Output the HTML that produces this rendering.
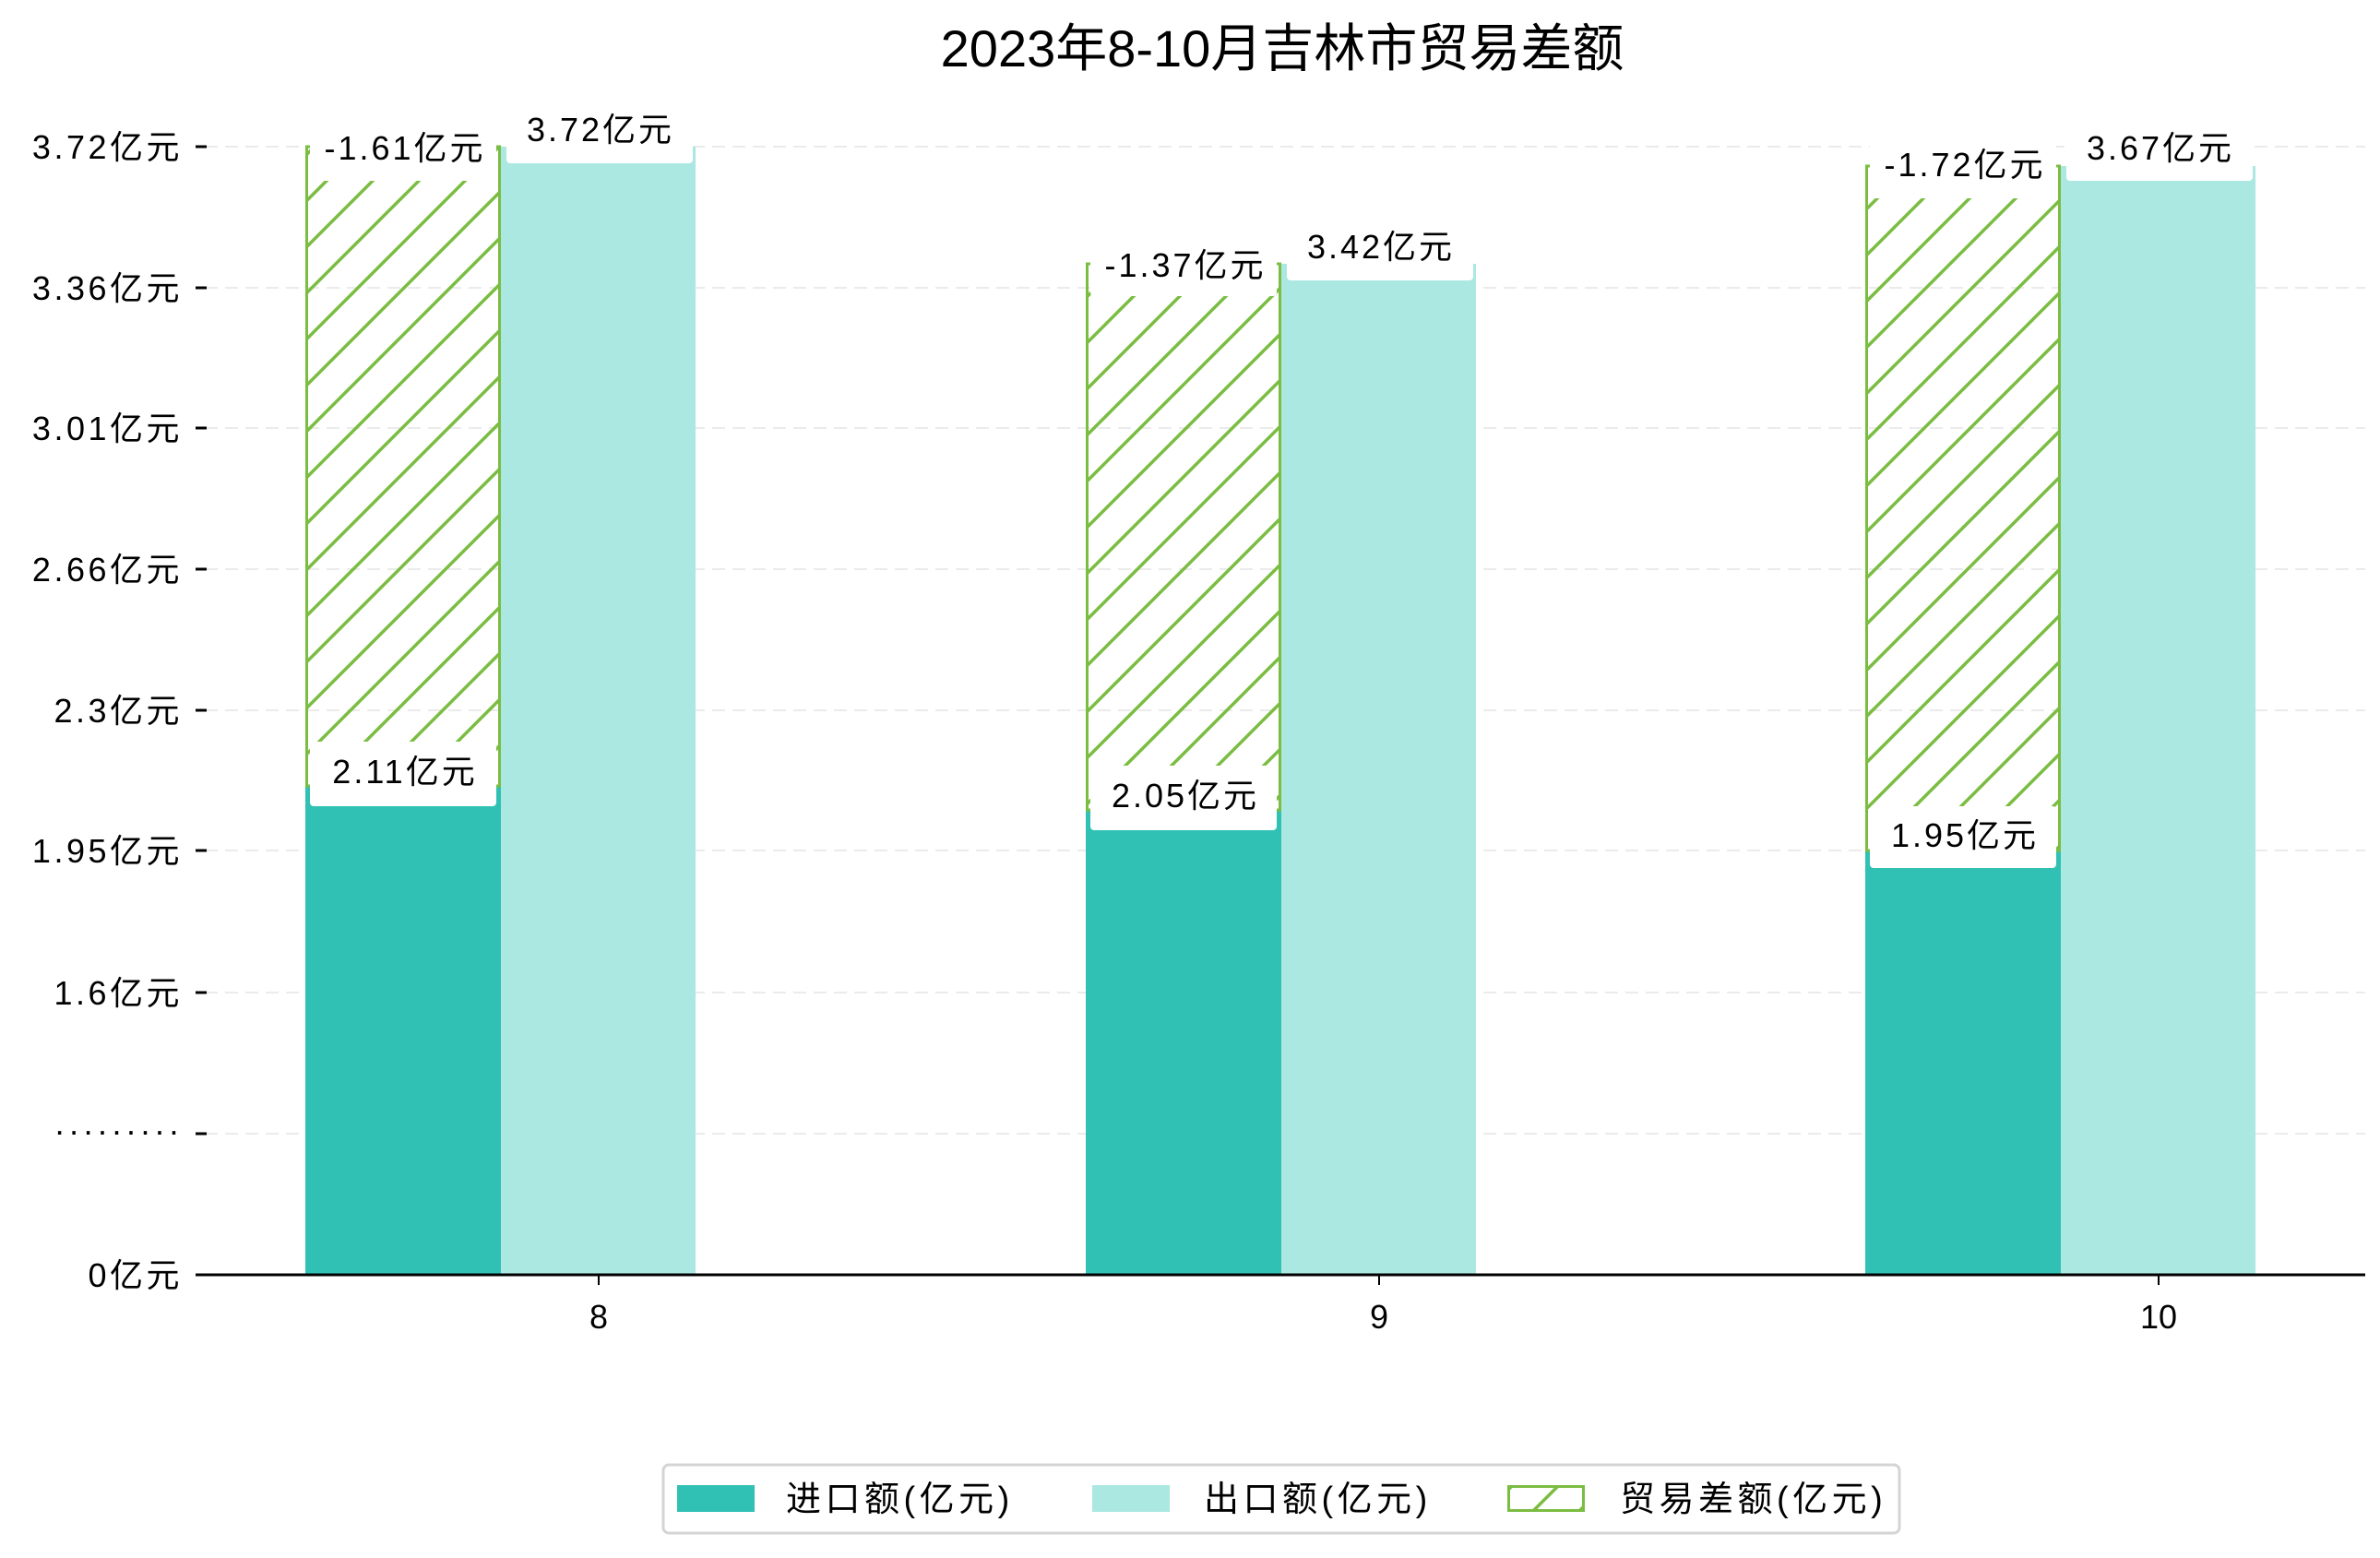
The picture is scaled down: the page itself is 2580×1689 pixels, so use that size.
<!DOCTYPE html>
<html><head><meta charset="utf-8">
<style>
html,body{margin:0;padding:0;background:#fff;}
svg{display:block;}
text{font-family:"Liberation Sans","Noto Sans CJK SC",sans-serif;fill:#000;}
</style></head>
<body>
<svg width="2580" height="1689" viewBox="0 0 2580 1689" xmlns="http://www.w3.org/2000/svg">
<defs>
<pattern id="h" patternUnits="userSpaceOnUse" width="50" height="50">
<line x1="-5" y1="55" x2="55" y2="-5" stroke="#7bbd42" stroke-width="3.5"/>
<line x1="-30" y1="30" x2="30" y2="-30" stroke="#7bbd42" stroke-width="3.5"/>
<line x1="20" y1="80" x2="80" y2="20" stroke="#7bbd42" stroke-width="3.5"/>
</pattern>
</defs>
<rect width="2580" height="1689" fill="#fff"/>
<text x="1390" y="72" font-size="56" text-anchor="middle">2023年8-10月吉林市贸易差额</text>

<g stroke="#ebebeb" stroke-width="2" stroke-dasharray="14,8">
<line x1="222" x2="2564" y1="159" y2="159"/>
<line x1="222" x2="2564" y1="312" y2="312"/>
<line x1="222" x2="2564" y1="464" y2="464"/>
<line x1="222" x2="2564" y1="617" y2="617"/>
<line x1="222" x2="2564" y1="770" y2="770"/>
<line x1="222" x2="2564" y1="922" y2="922"/>
<line x1="222" x2="2564" y1="1076" y2="1076"/>
<line x1="222" x2="2564" y1="1229" y2="1229"/>
</g>
<g stroke="#000" stroke-width="3">
<line x1="212" x2="224" y1="159" y2="159"/>
<line x1="212" x2="224" y1="312" y2="312"/>
<line x1="212" x2="224" y1="464" y2="464"/>
<line x1="212" x2="224" y1="617" y2="617"/>
<line x1="212" x2="224" y1="770" y2="770"/>
<line x1="212" x2="224" y1="922" y2="922"/>
<line x1="212" x2="224" y1="1076" y2="1076"/>
<line x1="212" x2="224" y1="1229" y2="1229"/>
<line x1="212" x2="224" y1="1382" y2="1382"/>
</g>
<g font-size="36" text-anchor="end" letter-spacing="3.5">
<text x="198" y="172">3.72亿元</text>
<text x="198" y="325">3.36亿元</text>
<text x="198" y="477">3.01亿元</text>
<text x="198" y="630">2.66亿元</text>
<text x="198" y="783">2.3亿元</text>
<text x="198" y="935">1.95亿元</text>
<text x="198" y="1089">1.6亿元</text>
<text x="198" y="1238">·········</text>
<text x="198" y="1395">0亿元</text>
</g>

<rect x="331" y="852" width="212" height="530" fill="#31c1b4"/>
<rect x="543" y="159" width="211" height="1223" fill="#abe8e2"/>
<rect x="332.5" y="159" width="209" height="693" fill="url(#h)" stroke="#7bbd42" stroke-width="3"/>
<rect x="1177" y="878" width="212" height="504" fill="#31c1b4"/>
<rect x="1389" y="286" width="211" height="1096" fill="#abe8e2"/>
<rect x="1178.5" y="286" width="209" height="592" fill="url(#h)" stroke="#7bbd42" stroke-width="3"/>
<rect x="2022" y="922" width="212" height="460" fill="#31c1b4"/>
<rect x="2234" y="180" width="211" height="1202" fill="#abe8e2"/>
<rect x="2023.5" y="180" width="209" height="742" fill="url(#h)" stroke="#7bbd42" stroke-width="3"/>

<g fill="#fff">
<rect x="336" y="128" width="202" height="68" rx="4"/>
<rect x="549" y="105" width="202" height="72" rx="4"/>
<rect x="336" y="804" width="202" height="70" rx="4"/>
<rect x="1182" y="255" width="202" height="66" rx="4"/>
<rect x="1395" y="232" width="202" height="72" rx="4"/>
<rect x="1182" y="830" width="202" height="70" rx="4"/>
<rect x="2027" y="148" width="202" height="67" rx="4"/>
<rect x="2240" y="126" width="202" height="70" rx="4"/>
<rect x="2027" y="874" width="202" height="67" rx="4"/>
</g>
<g font-size="36" text-anchor="middle" letter-spacing="3">
<text x="439" y="173">-1.61亿元</text>
<text x="651" y="153">3.72亿元</text>
<text x="439" y="849">2.11亿元</text>
<text x="1285" y="300">-1.37亿元</text>
<text x="1497" y="280">3.42亿元</text>
<text x="1285" y="875">2.05亿元</text>
<text x="2130" y="191">-1.72亿元</text>
<text x="2342" y="173">3.67亿元</text>
<text x="2130" y="918">1.95亿元</text>
</g>

<line x1="222" x2="2564" y1="1382" y2="1382" stroke="#000" stroke-width="3"/>
<g stroke="#000" stroke-width="2">
<line x1="649" x2="649" y1="1382" y2="1393"/>
<line x1="1495" x2="1495" y1="1382" y2="1393"/>
<line x1="2340" x2="2340" y1="1382" y2="1393"/>
</g>
<g font-size="36" text-anchor="middle">
<text x="649" y="1440">8</text>
<text x="1495" y="1440">9</text>
<text x="2340" y="1440">10</text>
</g>

<rect x="719" y="1588" width="1340" height="74" rx="6" fill="#fff" stroke="#d4d4d4" stroke-width="3"/>
<g font-size="38" letter-spacing="4.5">
<rect x="734" y="1610" width="84" height="29" fill="#31c1b4"/>
<text x="852" y="1638">进口额(亿元)</text>
<rect x="1184" y="1610" width="84" height="29" fill="#abe8e2"/>
<text x="1305" y="1638">出口额(亿元)</text>
<rect x="1635.5" y="1611.5" width="81" height="26" fill="url(#h)" stroke="#7bbd42" stroke-width="3"/>
<text x="1756" y="1638">贸易差额(亿元)</text>
</g>
</svg>
</body></html>
